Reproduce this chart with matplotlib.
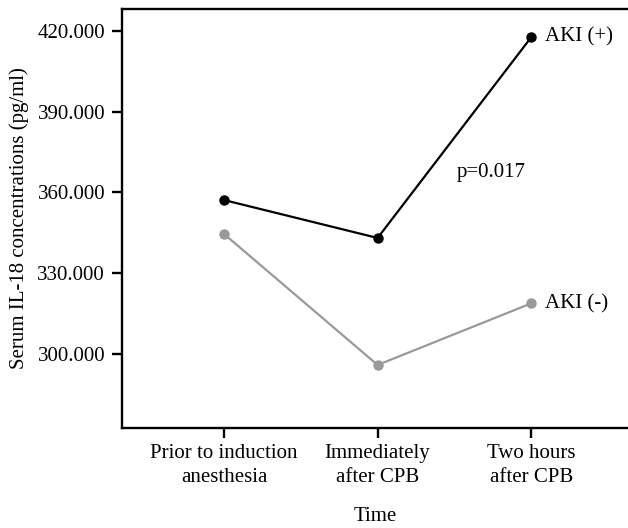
import matplotlib
matplotlib.use('Agg')
import matplotlib.pyplot as plt

# data
times = ['Prior to induction\nanesthesia', 'Immediately\nafter CPB', 'Two hours\nafter CPB']
aki_pos = [357.2, 343.1, 417.7]
aki_neg = [344.6, 295.9, 318.8]
yticks = [300, 330, 360, 390, 420]

INK, GREY = '#000000', '#999999'
plt.rcParams.update({'font.family': 'Liberation Serif', 'font.size': 15})

fig = plt.figure(figsize=(6.28, 5.28), dpi=100)
ax = fig.add_axes([0.194, 0.19, 0.806, 0.793])
x = list(range(len(times)))
ax.plot(x, aki_pos, color=INK, lw=1.6, marker='o', ms=6.5)
ax.plot(x, aki_neg, color=GREY, lw=1.6, marker='o', ms=6.5)
ax.text(x[-1] + 0.09, aki_pos[-1], 'AKI (+)', va='center', ha='left')
ax.text(x[-1] + 0.09, aki_neg[-1], 'AKI (-)', va='center', ha='left')
ax.text(1.516, 367.3, 'p=0.017', va='center', ha='left')

ax.set_xlim(-0.665, 2.63)
ax.set_ylim(272.6, 428.2)
ax.set_xticks(x)
ax.set_xticklabels(times, linespacing=1.35)
ax.set_yticks(yticks)
ax.set_yticklabels([f'{v:.3f}' for v in yticks])
ax.spines['right'].set_visible(False)
for s in ('left', 'bottom', 'top'):
    ax.spines[s].set_linewidth(1.7)
ax.tick_params(width=1.7, length=7, pad=5)
ax.set_xlabel('Time', labelpad=14)
ax.set_ylabel('Serum IL-18 concentrations (pg/ml)', labelpad=6)

fig.savefig('out.png', dpi=100)
